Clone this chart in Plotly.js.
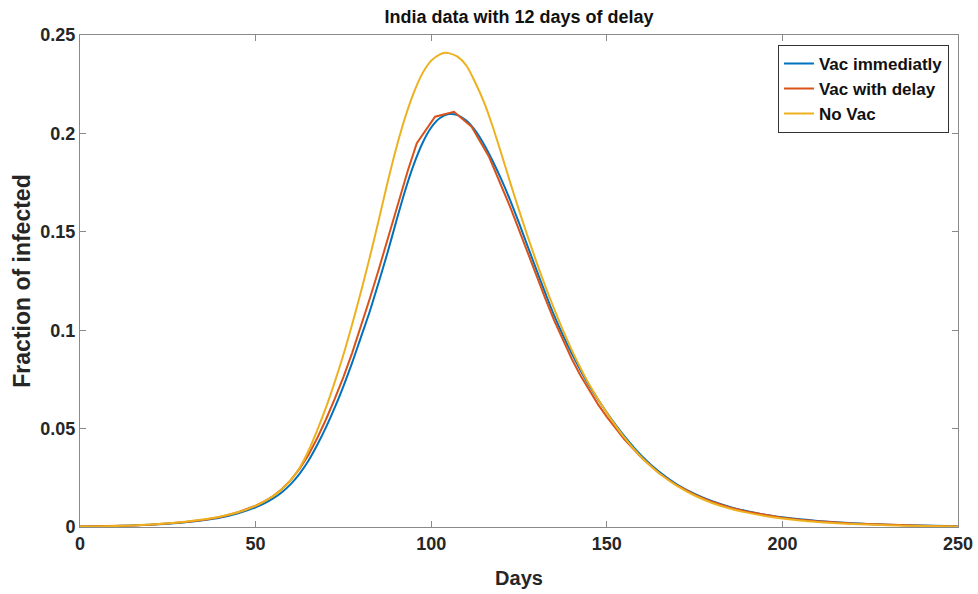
<!DOCTYPE html>
<html>
<head>
<meta charset="utf-8">
<script src="https://cdn.plot.ly/plotly-3.0.1.min.js"></script>
<style>html,body{margin:0;padding:0;background:#fff;}#chart{width:978px;height:594px;}</style>
</head>
<body>
<div id="chart"></div>
<script>
// Series names
const seriesNames = ["Vac immediatly", "Vac with delay", "No Vac"];

// Vac immediatly (blue)
const daysVacImmediate = [0,5,10,15,20,25,30,35,40,45,50,52.5,55,57.5,60,62.5,65,67.5,70,72.5,75,77.5,80,82.5,85,87.5,90,92.5,95,97.5,100,102.5,105,107.5,110,112.5,115,117.5,120,122.5,125,127.5,130,132.5,135,137.5,140,142.5,145,150,155,160,165,170,175,180,185,190,195,200,205,210,220,230,240,250];
const fracVacImmediate = [0.0002,0.0003,0.0005,0.0008,0.0012,0.0017,0.0024,0.0034,0.0048,0.0070,0.0100,0.0120,0.0145,0.0177,0.0218,0.0270,0.0335,0.0415,0.0505,0.0605,0.0715,0.0835,0.0965,0.1095,0.1240,0.1390,0.1550,0.1705,0.1840,0.1950,0.2030,0.2078,0.2098,0.2093,0.2065,0.2015,0.1945,0.1860,0.1765,0.1660,0.1545,0.1425,0.1305,0.1188,0.1075,0.0975,0.0882,0.0797,0.0718,0.0582,0.0462,0.0360,0.0279,0.0216,0.0168,0.0131,0.0102,0.0080,0.0062,0.0049,0.0039,0.0031,0.0019,0.0012,0.0007,0.0004];

// Vac with delay (red)
const daysVacDelay = [0,5,10,15,20,25,30,35,40,45,50,52.5,55,57.5,60,62.5,65,67.5,70,72.5,75,77.5,80,82.5,85,87.5,90,93.4,95.9,101.1,106.5,111.5,116.5,120,122.5,125,127.5,130,132.5,135,137.5,140,142.5,145,147.5,150,155,160,165,170,175,180,185,190,195,200,205,210,220,230,240,250];
const fracVacDelay = [0.0002,0.0003,0.0005,0.0008,0.0012,0.0018,0.0025,0.0036,0.0051,0.0075,0.0108,0.0130,0.0157,0.0193,0.0238,0.0295,0.0365,0.0450,0.0545,0.0650,0.0762,0.0885,0.1020,0.1160,0.1305,0.1460,0.1610,0.1814,0.1950,0.2085,0.2110,0.2034,0.1880,0.1735,0.1625,0.1510,0.1392,0.1275,0.1160,0.1050,0.0948,0.0855,0.0770,0.0693,0.0623,0.0560,0.0446,0.0350,0.0272,0.0211,0.0164,0.0128,0.0099,0.0078,0.0061,0.0047,0.0037,0.0029,0.0018,0.0011,0.0006,0.0003];

// No Vac (yellow)
const daysNoVac = [0,5,10,15,20,25,30,35,40,45,50,52.5,55,57.5,60,62.5,65,67.5,70,72.5,75,77.5,80,82.5,85,87.5,90,92.5,95,97.5,100,102.5,104,105,107.5,110,112.5,115,117.5,120,122.5,125,127.5,130,132.5,135,137.5,140,142.5,145,150,155,160,165,170,175,180,185,190,195,200,205,210,220,230,240,250];
const fracNoVac = [0.0002,0.0003,0.0005,0.0008,0.0013,0.0019,0.0027,0.0038,0.0053,0.0075,0.0107,0.0130,0.0157,0.0192,0.0238,0.0300,0.0385,0.0490,0.0605,0.0735,0.0875,0.1030,0.1195,0.1370,0.1555,0.1745,0.1922,0.2077,0.2205,0.2305,0.2370,0.2402,0.2410,0.2408,0.2390,0.2345,0.2260,0.2160,0.2035,0.1895,0.1750,0.1610,0.1475,0.1345,0.1223,0.1108,0.1000,0.0900,0.0808,0.0724,0.0580,0.0455,0.0352,0.0272,0.0209,0.0160,0.0122,0.0094,0.0073,0.0056,0.0043,0.0033,0.0026,0.0015,0.0009,0.0005,0.0003];

const colors = ["#0072BD", "#D95319", "#EDB120"];
const FONT = "Liberation Sans, Arial, Helvetica, sans-serif";

const traces = [
  {x: daysVacImmediate, y: fracVacImmediate, name: seriesNames[0]},
  {x: daysVacDelay, y: fracVacDelay, name: seriesNames[1]},
  {x: daysNoVac, y: fracNoVac, name: seriesNames[2]}
].map((t, i) => Object.assign(t, {
  type: "scatter", mode: "lines",
  line: {color: colors[i], width: 2, shape: i === 1 ? "linear" : "spline", smoothing: 0.8}
}));

const axisCommon = {
  showline: true, linecolor: "#8a8a8a", linewidth: 1, mirror: "ticks",
  ticks: "inside", ticklen: 6, tickcolor: "#8a8a8a", tickwidth: 1,
  showgrid: false, zeroline: false,
  tickfont: {family: FONT, size: 18, color: "#262626", weight: "bold"}
};

const layout = {
  width: 978, height: 594,
  margin: {l: 80, r: 20, t: 35, b: 67},
  paper_bgcolor: "#fff", plot_bgcolor: "#fff",
  title: {text: "India data with 12 days of delay", x: 0.5307, xanchor: "center", y: 0.972, yanchor: "middle",
          font: {family: FONT, size: 18, color: "#111", weight: "bold"}},
  xaxis: Object.assign({}, axisCommon, {
    range: [0, 250], tickvals: [0, 50, 100, 150, 200, 250], ticktext: ["0","50","100","150","200","250"],
    title: {text: "Days", font: {family: FONT, size: 20, color: "#262626", weight: "bold"}, standoff: 18}
  }),
  yaxis: Object.assign({}, axisCommon, {
    range: [0, 0.25], tickvals: [0, 0.05, 0.1, 0.15, 0.2, 0.25], ticktext: ["0","0.05","0.1","0.15","0.2","0.25"],
    title: {text: "Fraction of infected", font: {family: FONT, size: 23, color: "#262626", weight: "bold"}, standoff: 3}
  }),
  showlegend: true,
  legend: {
    x: 0.9897, xanchor: "right", y: 0.98, yanchor: "top",
    bgcolor: "#fff", bordercolor: "#333", borderwidth: 1,
    font: {family: FONT, size: 17, color: "#111", weight: "bold"},
    tracegroupgap: 0
  }
};

Plotly.newPlot("chart", traces, layout, {staticPlot: true, displayModeBar: false});
</script>
</body>
</html>
